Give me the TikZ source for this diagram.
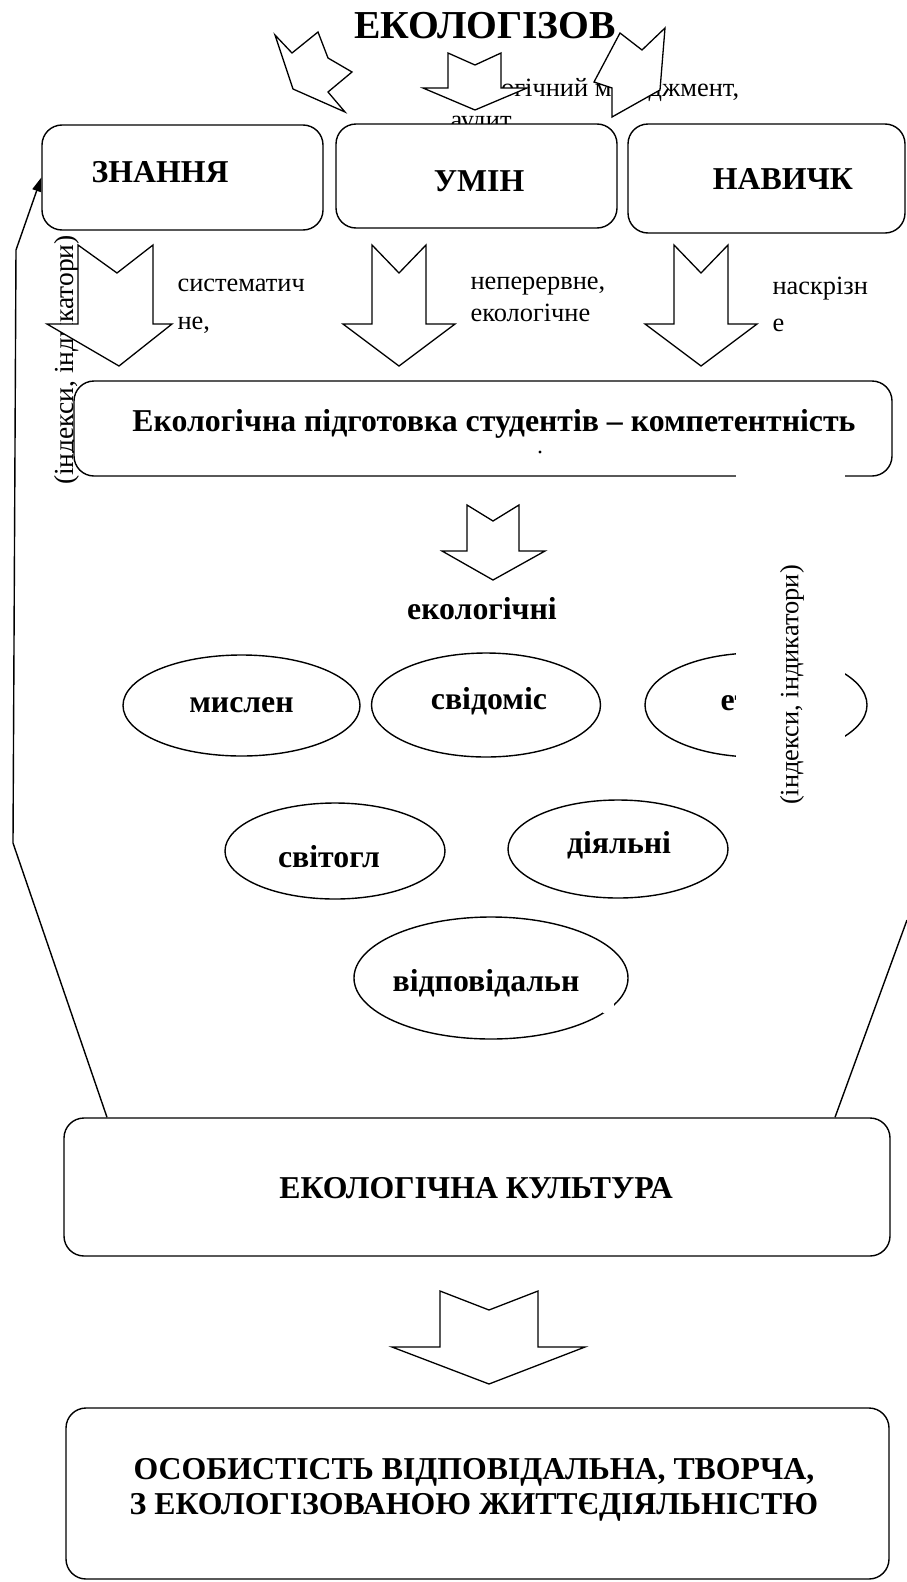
\documentclass[tikz,border=0pt]{standalone}
\usepackage{fontspec}
\setmainfont{Liberation Serif}
\usetikzlibrary{shapes.geometric,arrows.meta}
\begin{document}
\begin{tikzpicture}[x=1pt,y=-1pt,
  box/.style={draw,line width=1.4pt,rounded corners=20pt,fill=white,inner sep=0pt},
  oval/.style={draw,line width=1.4pt,ellipse,fill=white,inner sep=0pt},
  blockarrow/.style={draw,line width=1.3pt,fill=white,line join=miter},
  bigbold/.style={font=\fontsize{31.8}{35}\selectfont\bfseries},
  plain/.style={font=\fontsize{26.4}{30}\selectfont},
  sidecap/.style={font=\fontsize{27.5}{30}\selectfont,rotate=90},
  titlefont/.style={font=\fontsize{39.6}{44}\selectfont\bfseries},
  link/.style={line width=1.4pt}]
\useasboundingbox (0,0) rectangle (907,1582);

% heading and the management note under it
\node[titlefont] (title) at (485,26) {ЕКОЛОГІЗОВ};
\node[plain,anchor=base west] (mgmt1) at (444,96) {Екологічний менеджмент,};
\node[plain,anchor=base west] (mgmt2) at (447,128) {аудит};

% vertical caption on the left
\node[sidecap] (capL) at (67,360) {(індекси, індикатори)};

% top row of boxes
\node[box,minimum width=281pt,minimum height=105pt] (zn) at (182.5,177.5) {};
\node[box,minimum width=281pt,minimum height=104pt] (um) at (476.5,176) {};
\node[box,minimum width=277pt,minimum height=109pt] (nv) at (766.5,178.5) {};
\node[bigbold] (tzn) at (160,172) {ЗНАННЯ};
\node[bigbold] (tum) at (479,181) {УМІН};
\node[bigbold] (tnv) at (783,179) {НАВИЧК};

% arrows pointing at the top boxes
\draw[blockarrow] (275,35) -- (292,53) -- (318,32) -- (328,58) -- (352,72)
  -- (328,92) -- (345,112) -- (293,89) -- cycle;
\draw[blockarrow] (448,53) -- (475,65) -- (501,53) -- (501,88) -- (527,88)
  -- (475,110) -- (423,88) -- (448,88) -- cycle;
\draw[blockarrow] (620,33) -- (642,50) -- (665,28) -- (660,90) -- (612,117)
  -- (612,88) -- (594,82) -- cycle;

% three down arrows
\draw[blockarrow] (78,245) -- (117,273) -- (153,245) -- (153,324) -- (172,324)
  -- (119,366) -- (47,324) -- (78,324) -- cycle;
\foreach \cx in {399,701}{
  \draw[blockarrow] (\cx-27,245) -- (\cx,273) -- (\cx+27,245) -- (\cx+27,324)
    -- (\cx+56,324) -- (\cx,366) -- (\cx-56,324) -- (\cx-27,324) -- cycle;
}
\node[plain,anchor=base west] (s1) at (174,291) {систематич};
\node[plain,anchor=base west] (s2) at (174,329) {не,};
\node[plain,anchor=base west] (n1) at (467,289) {неперервне,};
\node[plain,anchor=base west] (n2) at (467,321) {екологічне};
\node[plain,anchor=base west] (k1) at (769,294) {наскрізн};
\node[plain,anchor=base west] (k2) at (769,331) {е};

% training box
\node[box,minimum width=818pt,minimum height=95pt] (pid) at (483,428.5) {};
\node[bigbold] (tpid) at (494,424) {Екологічна підготовка студентів – компетентність};
\fill (540,452) circle (1.6pt);

% arrow to the ovals
\draw[blockarrow] (467,505) -- (493,521) -- (519,505) -- (519,551) -- (545,551)
  -- (493,580) -- (442,551) -- (467,551) -- cycle;
\node[bigbold] (eco) at (482,609) {екологічні};

% ovals
\node[oval,minimum width=237pt,minimum height=101pt] (mys) at (241.5,705.5) {};
\node[bigbold] at (mys) {мислен};
\node[oval,minimum width=229pt,minimum height=104pt] (svid) at (486,705) {};
\node[bigbold] at (489,701) {свідоміс};
\node[oval,minimum width=222pt,minimum height=104pt] (et) at (756,705) {};
\node[bigbold,anchor=west] at (717,703) {ет};
\node[oval,minimum width=220pt,minimum height=96pt] (svit) at (335,851) {};
\node[bigbold] at (329,857) {світогл};
\node[oval,minimum width=220pt,minimum height=98pt] (diy) at (618,849) {};
\node[bigbold] at (619,845) {діяльні};
\node[oval,minimum width=274pt,minimum height=122pt] (vid) at (491,978) {};
\node[bigbold] at (486,983) {відповідальн};
\fill[white] (603,1001) rectangle (614,1013);

% vertical caption on the right with its white frame
\fill[white] (736,462) rectangle (845,815);
\node[sidecap,font=\fontsize{26.4}{30}\selectfont] (capR) at (792,685) {(індекси, індикатори)};

% culture box and the final box
\node[box,minimum width=826pt,minimum height=138pt] (kult) at (477,1187) {};
\node[bigbold] at (476,1188) {ЕКОЛОГІЧНА КУЛЬТУРА};
\draw[blockarrow] (440,1291) -- (489,1310) -- (538,1291) -- (538,1347) -- (585,1347)
  -- (489,1384) -- (392,1347) -- (440,1347) -- cycle;
\node[box,minimum width=823pt,minimum height=171pt] (osob) at (477.5,1493.5) {};
\node[bigbold,align=center] at (474,1490) {ОСОБИСТІСТЬ ВІДПОВІДАЛЬНА, ТВОРЧА,\\З ЕКОЛОГІЗОВАНОЮ ЖИТТЄДІЯЛЬНІСТЮ};

% feedback line and the funnel sides
\coordinate (bendL) at (13,843);
\coordinate (riseL) at (16,250);
\coordinate (edgeR) at (907,920);
\draw[link,-{Triangle[length=14pt,width=9pt]}] (kult.north west -| 107,0) -- (bendL) -- (riseL) -- (zn.west);
\draw[link] (kult.north east -| 835,0) -- (edgeR);
\end{tikzpicture}
\end{document}
